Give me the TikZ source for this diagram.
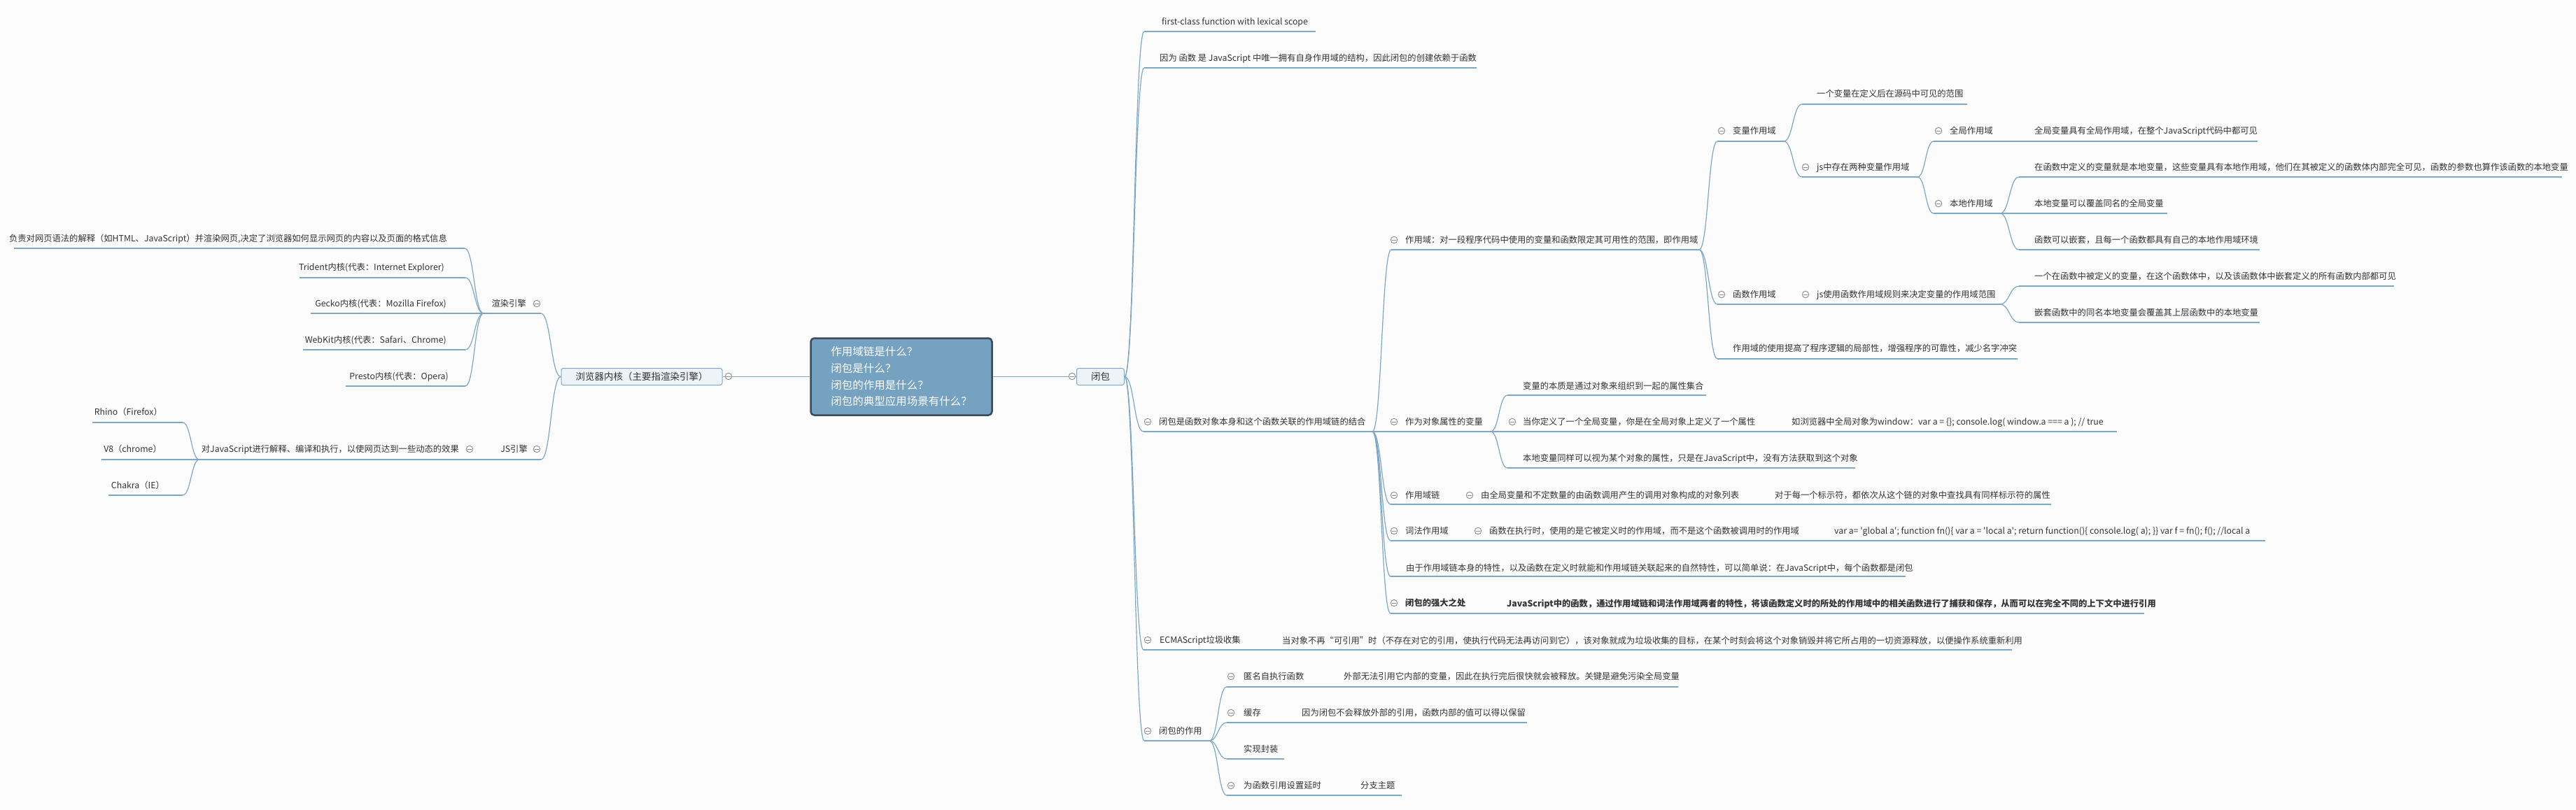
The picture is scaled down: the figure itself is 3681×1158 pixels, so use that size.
\documentclass[tikz,border=0pt]{standalone}
\usepackage{fontspec}
\setmainfont{Noto Sans CJK SC}
\usetikzlibrary{calc}
\definecolor{bgc}{HTML}{FCFCFC}
\definecolor{linec}{HTML}{7EA6C6}
\definecolor{txtc}{HTML}{333333}
\definecolor{circc}{HTML}{8C8C8C}
\definecolor{rootf}{HTML}{74A2C0}
\definecolor{rootd}{HTML}{3A4B5B}
\definecolor{boxf}{HTML}{EEF3F8}
\definecolor{boxd}{HTML}{82A7C4}
\newcommand\mmfs{\fontsize{12.3pt}{14pt}\selectfont}
\newcommand\mmR[4]{\node[rt] (#1) at (#2,#3+4.4) {#4};}
\newcommand\mmL[4]{\node[lt] (#1) at (#2,#3+4.4) {#4};}
\newcommand\mmC[3]{\node[cir] (#1) at (#2,#3) {};}
\newcommand\mmU[4]{\coordinate (#1a) at (#2,#4); \coordinate (#1b) at (#3,#4); \draw[conn] (#1a) -- (#1b);}
\newcommand\mmV[2]{\draw[conn] let \p1=(#1), \p2=(#2) in (\p1) .. controls ({0.5*\x1+0.5*\x2},\y1) and ({0.5*\x1+0.5*\x2},\y2) .. (\p2);}
\tikzset{
  conn/.style={draw=linec, line width=1.2pt},
  rt/.style={anchor=base west, inner sep=0pt, text=txtc, font=\mmfs},
  lt/.style={anchor=base east, inner sep=0pt, text=txtc, font=\mmfs},
  cir/.style={circle, draw=circc, fill=white, line width=0.9pt, minimum size=9.5pt, inner sep=0pt,
    path picture={\draw[circc, line width=0.9pt] ([xshift=-2.6pt]path picture bounding box.center) -- ([xshift=2.6pt]path picture bounding box.center);}},
  topbox/.style={draw=boxd, fill=boxf, line width=1pt, rounded corners=3pt, minimum height=24pt, inner sep=0pt, text=txtc, font=\fontsize{13.5pt}{15pt}\selectfont},
}
\begin{document}
\begin{tikzpicture}[x=1pt,y=-1pt]
\useasboundingbox (0,0) rectangle (3681,1158);
\fill[bgc] (0,0) rectangle (3681,1158);

% ---------- central nodes ----------
\node[draw=rootd, fill=rootf, line width=2.5pt, rounded corners=5pt, minimum width=259pt, minimum height=110pt,
      text=white, align=left, inner sep=0pt, font=\fontsize{15.5pt}{23.7pt}\selectfont] (root) at (1288,538.5)
      {作用域链是什么？\\闭包是什么？\\闭包的作用是什么？\\闭包的典型应用场景有什么？};
\node[topbox, minimum width=68pt] (b) at (1572.5,538.5) {闭包};
\node[topbox, minimum width=230pt] (lb) at (917,538.5) {浏览器内核（主要指渲染引擎）};
\draw[conn] (root.east) -- (b.west);
\draw[conn] (root.west) -- (lb.east);
\mmC{bc}{1532}{538}
\mmC{lbc}{1041}{538}

% ---------- left side ----------
\mmU{re}{691}{773}{448}
\mmU{js}{686}{773}{657}
\mmU{dj}{285}{686}{657}
\mmU{fz}{20}{664}{355}
\mmU{tr}{428}{665}{397}
\mmU{ge}{444}{691}{448}
\mmU{wk}{433}{665}{500}
\mmU{pr}{494}{665}{552}
\mmU{rh}{132}{261}{604}
\mmU{v}{145}{285}{657}
\mmU{ch}{155}{261}{708}
\mmV{lb.west}{reb}
\mmV{lb.west}{jsb}
\mmV{rea}{fzb}
\mmV{rea}{trb}
\mmV{rea}{wkb}
\mmV{rea}{prb}
\mmV{dja}{rhb}
\mmV{dja}{chb}

\mmL{ret}{752}{434}{渲染引擎}
\mmC{rec}{767}{434}
\mmL{jst}{754}{642}{JS引擎}
\mmC{jsc}{767}{642}
\mmL{djt}{656}{642}{对JavaScript进行解释、编译和执行，以使网页达到一些动态的效果}
\mmC{djc}{671}{642}
\mmL{fzt}{639}{341}{负责对网页语法的解释（如HTML、JavaScript）并渲染网页,决定了浏览器如何显示网页的内容以及页面的格式信息}
\mmL{trt}{635}{382}{Trident内核(代表：Internet Explorer)}
\mmL{get}{638}{434}{Gecko内核(代表：Mozilla Firefox)}
\mmL{wkt}{638}{486}{WebKit内核(代表：Safari、Chrome)}
\mmL{prt}{641}{538}{Presto内核(代表：Opera)}
\mmL{rht}{232}{589}{Rhino（Firefox）}
\mmL{vt}{231}{642}{V8（chrome）}
\mmL{cht}{235}{694}{Chakra（IE）}

% ---------- right side: level 1 ----------
\mmU{fc}{1635}{1880}{45}
\mmU{yw}{1635}{2110}{97}
\mmU{bb}{1634}{1961}{617}
\mmU{ec}{1634}{2875}{929}
\mmU{bz}{1635}{1728}{1059}
\mmV{b.east}{fca}
\mmV{b.east}{ywa}
\mmV{b.east}{bba}
\mmV{b.east}{eca}
\mmV{b.east}{bza}

\mmR{fct}{1660}{31}{first-class function with lexical scope}
\mmR{ywt}{1657}{83}{因为 函数 是 JavaScript 中唯一拥有自身作用域的结构，因此闭包的创建依赖于函数}
\mmC{bbc}{1640}{603}
\mmR{bbt}{1656}{603}{闭包是函数对象本身和这个函数关联的作用域链的结合}
\mmC{ecc}{1640}{915}
\mmR{ect}{1657}{915}{ECMAScript垃圾收集}
\mmR{ect2}{1832}{916}{当对象不再“可引用”时（不存在对它的引用，使执行代码无法再访问到它），该对象就成为垃圾收集的目标，在某个时刻会将这个对象销毁并将它所占用的一切资源释放，以便操作系统重新利用}
\mmC{bzc}{1640}{1045}
\mmR{bzt}{1656}{1045}{闭包的作用}

% ---------- 闭包是函数对象... children ----------
\mmU{zy}{1988}{2428}{357}
\mmU{ov}{1961}{2130}{617}
\mmU{ln}{1987}{2931}{721}
\mmU{cf}{1987}{3237}{773}
\mmU{yu}{1987}{2723}{824}
\mmU{qd}{1987}{3064}{877}
\mmV{bbb}{zya}
\mmV{bbb}{lna}
\mmV{bbb}{cfa}
\mmV{bbb}{yua}
\mmV{bbb}{qda}

\mmC{zyc}{1992}{343}
\mmR{zyt}{2008}{343}{作用域：对一段程序代码中使用的变量和函数限定其可用性的范围，即作用域}
\mmC{ovc}{1992}{603}
\mmR{ovt}{2008}{603}{作为对象属性的变量}
\mmC{lnc}{1992}{708}
\mmR{lnt}{2008}{708}{作用域链}
\mmC{lnc2}{2100}{708}
\mmR{lnt2}{2116}{708}{由全局变量和不定数量的由函数调用产生的调用对象构成的对象列表}
\mmR{lnt3}{2536}{708}{对于每一个标示符，都依次从这个链的对象中查找具有同样标示符的属性}
\mmC{cfc}{1992}{759}
\mmR{cft}{2008}{759}{词法作用域}
\mmC{cfc2}{2112}{759}
\mmR{cft2}{2128}{759}{函数在执行时，使用的是它被定义时的作用域，而不是这个函数被调用时的作用域}
\mmR{cft3}{2621}{759}{var a= \textquotesingle global a\textquotesingle; function fn()\{ var a = \textquotesingle local a\textquotesingle; return function()\{ console.log( a); \}\} var f = fn(); f(); //local a}
\mmR{yut}{2009}{812}{由于作用域链本身的特性，以及函数在定义时就能和作用域链关联起来的自然特性，可以简单说：在JavaScript中，每个函数都是闭包}
\mmC{qdc}{1992}{862}
\mmR{qdt}{2008}{862}{\bfseries 闭包的强大之处}
\mmR{qdt2}{2153}{863}{\bfseries JavaScript中的函数，通过作用域链和词法作用域两者的特性，将该函数定义时的所处的作用域中的相关函数进行了捕获和保存，从而可以在完全不同的上下文中进行引用}

% ---------- 作为对象属性的变量 children ----------
\mmU{vb}{2154}{2438}{565}
\mmU{dn}{2130}{3025}{617}
\mmU{bt}{2154}{2651}{669}
\mmV{ovb}{vba}
\mmV{ovb}{bta}
\mmR{vbt}{2176}{552}{变量的本质是通过对象来组织到一起的属性集合}
\mmC{dnc}{2161}{603}
\mmR{dnt}{2176}{603}{当你定义了一个全局变量，你是在全局对象上定义了一个属性}
\mmR{dnt2}{2560}{603}{如浏览器中全局对象为window：var a = \{\}; console.log( window.a === a ); // true}
\mmR{btt}{2176}{655}{本地变量同样可以视为某个对象的属性，只是在JavaScript中，没有方法获取到这个对象}

% ---------- 作用域 children ----------
\mmU{bl}{2454}{2549}{202}
\mmU{hs}{2454}{2858}{435}
\mmU{sy}{2454}{2883}{513}
\mmV{zyb}{bla}
\mmV{zyb}{hsa}
\mmV{zyb}{sya}
\mmC{blc}{2460}{187}
\mmR{blt}{2476}{187}{变量作用域}
\mmC{hsc}{2460}{421}
\mmR{hst}{2476}{421}{函数作用域}
\mmC{hsc2}{2580}{421}
\mmR{hst2}{2596}{421}{js使用函数作用域规则来决定变量的作用域范围}
\mmR{syt}{2476}{498}{作用域的使用提高了程序逻辑的局部性，增强程序的可靠性，减少名字冲突}

\mmU{yg}{2575}{2811}{149}
\mmU{lz}{2575}{2740}{253}
\mmV{blb}{yga}
\mmV{blb}{lza}
\mmR{ygt}{2596}{134}{一个变量在定义后在源码中可见的范围}
\mmC{lzc}{2580}{239}
\mmR{lzt}{2596}{239}{js中存在两种变量作用域}

\mmU{qj}{2763}{3226}{202}
\mmU{bd}{2763}{2858}{305}
\mmV{lzb}{qja}
\mmV{lzb}{bda}
\mmC{qjc}{2770}{187}
\mmR{qjt}{2786}{187}{全局作用域}
\mmR{qjt2}{2907}{187}{全局变量具有全局作用域，在整个JavaScript代码中都可见}
\mmC{bdc}{2770}{291}
\mmR{bdt}{2786}{291}{本地作用域}

\mmU{ka}{2885}{3661}{253}
\mmU{kb}{2858}{3097}{305}
\mmU{kc}{2885}{3229}{357}
\mmV{bdb}{kaa}
\mmV{bdb}{kca}
\mmR{kat}{2907}{239}{在函数中定义的变量就是本地变量，这些变量具有本地作用域，他们在其被定义的函数体内部完全可见，函数的参数也算作该函数的本地变量}
\mmR{kbt}{2907}{291}{本地变量可以覆盖同名的全局变量}
\mmR{kct}{2907}{343}{函数可以嵌套，且每一个函数都具有自己的本地作用域环境}

\mmU{ha}{2885}{3421}{409}
\mmU{hb}{2885}{3229}{461}
\mmV{hsb}{haa}
\mmV{hsb}{hba}
\mmR{hat}{2907}{395}{一个在函数中被定义的变量，在这个函数体中，以及该函数体中嵌套定义的所有函数内部都可见}
\mmR{hbt}{2907}{447}{嵌套函数中的同名本地变量会覆盖其上层函数中的本地变量}

% ---------- 闭包的作用 children ----------
\mmU{na}{1753}{2398}{982}
\mmU{nb}{1753}{2182}{1033}
\mmU{nc}{1753}{1835}{1085}
\mmU{nd}{1753}{2003}{1137}
\mmV{bzb}{naa}
\mmV{bzb}{nba}
\mmV{bzb}{nca}
\mmV{bzb}{nda}
\mmC{nac}{1759}{967}
\mmR{nat}{1777}{967}{匿名自执行函数}
\mmR{nat2}{1920}{967}{外部无法引用它内部的变量，因此在执行完后很快就会被释放。关键是避免污染全局变量}
\mmC{nbc}{1759}{1019}
\mmR{nbt}{1777}{1019}{缓存}
\mmR{nbt2}{1860}{1019}{因为闭包不会释放外部的引用，函数内部的值可以得以保留}
\mmR{nct}{1777}{1071}{实现封装}
\mmC{ndc}{1759}{1123}
\mmR{ndt}{1777}{1123}{为函数引用设置延时}
\mmR{ndt2}{1944}{1123}{分支主题}
\end{tikzpicture}
\end{document}
